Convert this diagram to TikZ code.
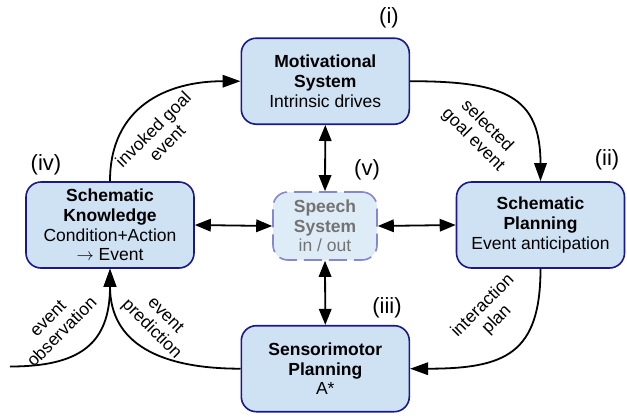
\documentclass[tikz,border=0pt]{standalone}
\usepackage{fontspec}
\setmainfont{Liberation Sans}
\usetikzlibrary{arrows.meta}
\definecolor{boxfill}{RGB}{207,226,243}
\definecolor{boxline}{RGB}{25,25,140}
\definecolor{speechfill}{RGB}{222,236,247}
\definecolor{speechline}{RGB}{135,135,205}
\definecolor{speechtext}{RGB}{115,115,115}
\begin{document}
\begin{tikzpicture}[x=1pt,y=1pt]
\tikzstyle{every node}+=[inner sep=0pt, font=\fontsize{17.5}{19.7}\selectfont]
\tikzstyle{module}=[draw=boxline, fill=boxfill, line width=1.6pt, rounded corners=15pt, minimum width=168pt, minimum height=86pt, align=center]
\tikzstyle{speechbox}=[module, draw=speechline, fill=speechfill, dash pattern=on 18pt off 7pt, minimum width=104pt, minimum height=68pt, text=speechtext]
\tikzstyle{flow}=[line width=1.8pt, -{Triangle[length=18pt,width=12.5pt]}]
\tikzstyle{link}=[line width=1.8pt, {Triangle[length=16pt,width=12.5pt]}-{Triangle[length=16pt,width=12.5pt]}]
\tikzstyle{tag}=[font=\fontsize{22}{24}\selectfont]
\tikzstyle{flowlabel}=[align=center]
\useasboundingbox (0,0) rectangle (627,-418);
% modules
\node [module] (mot) at (325.3,-81.2) {\textbf{Motivational}\\\textbf{System}\\Intrinsic drives};
\node [module] (kn) at (110,-225) {\textbf{Schematic}\\\textbf{Knowledge}\\Condition+Action\\$\rightarrow$ Event};
\node [module] (plan) at (540.5,-225) {\textbf{Schematic}\\\textbf{Planning}\\Event anticipation};
\node [module] (sens) at (325.3,-368.7) {\textbf{Sensorimotor}\\\textbf{Planning}\\A*};
\node [speechbox] (speech) at (325,-226) {\textbf{Speech}\\\textbf{System}\\in / out};
% tags
\node [tag] (tagi) at (389,-18) {(i)};
\node [tag] (tagii) at (607,-160) {(ii)};
\node [tag] (tagiii) at (387,-308) {(iii)};
\node [tag] (tagiv) at (46,-165) {(iv)};
\node [tag] (tagv) at (367,-170) {(v)};
% main loop
\draw [flow] (kn.north) to[out=90,in=180,looseness=1.15] (mot.west);
\draw [flow] (mot.east) .. controls +(95,0) and +(0,85) .. (plan.north);
\draw [flow] (plan.south) .. controls +(0,-85) and +(95,0) .. (sens.east);
\draw [flow] (sens.west) .. controls +(-80,0) and +(0,-75) .. (kn.south);
\coordinate (obs) at (10,-366.5);
\draw [flow] (obs) .. controls +(70,0) and +(0,-75) .. (kn.south);
% speech links
\draw [link] (mot.south) -- (speech.north);
\draw [link] (kn.east) -- (speech.west);
\draw [link] (speech.east) -- (plan.west);
\draw [link] (speech.south) -- (sens.north);
% labels
\node [flowlabel, rotate=45] (invoked) at (160,-136) {invoked goal\\event};
\node [flowlabel, rotate=-45] (selected) at (480,-133) {selected\\goal event};
\node [flowlabel, rotate=45] (interaction) at (490,-313) {interaction\\plan};
\node [flowlabel, rotate=-45] (prediction) at (158,-323) {event\\prediction};
\node [flowlabel, rotate=45] (observation) at (55,-325) {event\\observation};
\end{tikzpicture}
\end{document}
